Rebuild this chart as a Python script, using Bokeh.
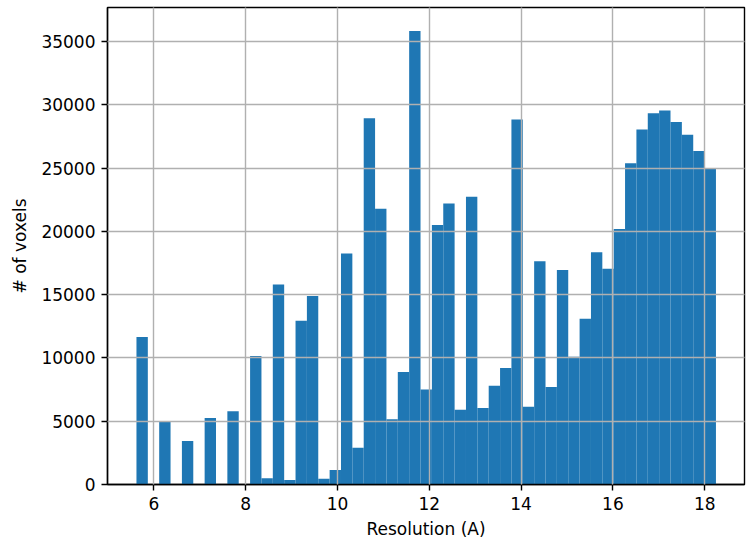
import numpy as np
from bokeh.plotting import figure
from bokeh.models import FixedTicker, NumeralTickFormatter, Range1d
from bokeh.embed import file_html
from bokeh.resources import INLINE

# Histogram data
bin_first_edge = 5.62
bin_last_edge = 18.245
counts = [11650, 0, 4980, 0, 3430, 0, 5250, 0, 5780, 0,
          10150, 500, 15800, 350, 12950, 14900, 450, 1150, 18250, 2900,
          28950, 21800, 5150, 8900, 35850, 7500, 20500, 22200, 5900, 22750,
          6050, 7800, 9200, 28850, 6150, 17650, 7700, 16950, 10100, 13100,
          18350, 17050, 20200, 25400, 28050, 29350, 29550, 28650, 27650, 26350,
          25000]
x_ticks = [6, 8, 10, 12, 14, 16, 18]
y_ticks = [0, 5000, 10000, 15000, 20000, 25000, 30000, 35000]
x_label = "Resolution (A)"
y_label = "# of voxels"

edges = np.linspace(bin_first_edge, bin_last_edge, len(counts) + 1)

p = figure(frame_width=637, frame_height=477,
           min_border_left=107, min_border_right=3,
           min_border_top=7, min_border_bottom=55,
           x_range=Range1d(4.989, 18.867), y_range=Range1d(0, 37700),
           output_backend="svg", toolbar_location=None)

p.quad(left=edges[:-1], right=edges[1:], bottom=0, top=counts,
       fill_color="#1f77b4", line_color=None)

FONT = "DejaVu Sans"
FS = "17px"
for ax in (p.xaxis[0], p.yaxis[0]):
    ax.major_label_text_font = FONT
    ax.major_label_text_font_size = FS
    ax.major_label_text_color = "black"
    ax.axis_label_text_font = FONT
    ax.axis_label_text_font_size = FS
    ax.axis_label_text_font_style = "normal"
    ax.axis_label_text_color = "black"
    ax.axis_line_color = "black"
    ax.axis_line_width = 1.4
    ax.major_tick_line_color = "black"
    ax.major_tick_line_width = 1.4
    ax.major_tick_out = 6
    ax.major_tick_in = 0
    ax.minor_tick_line_color = None
    ax.major_label_standoff = 6

p.xaxis.ticker = FixedTicker(ticks=x_ticks)
p.yaxis.ticker = FixedTicker(ticks=y_ticks)
p.yaxis.formatter = NumeralTickFormatter(format="0")
p.xaxis.axis_label = x_label
p.yaxis.axis_label = y_label
p.xaxis.axis_label_standoff = 6
p.yaxis.axis_label_standoff = 8

p.grid.grid_line_color = "#b0b0b0"
p.grid.grid_line_width = 1.4
p.grid.level = "annotation"

p.outline_line_color = "black"
p.outline_line_width = 1.4
p.background_fill_color = "white"
p.border_fill_color = "white"

open("out.html", "w").write(file_html(p, INLINE))
